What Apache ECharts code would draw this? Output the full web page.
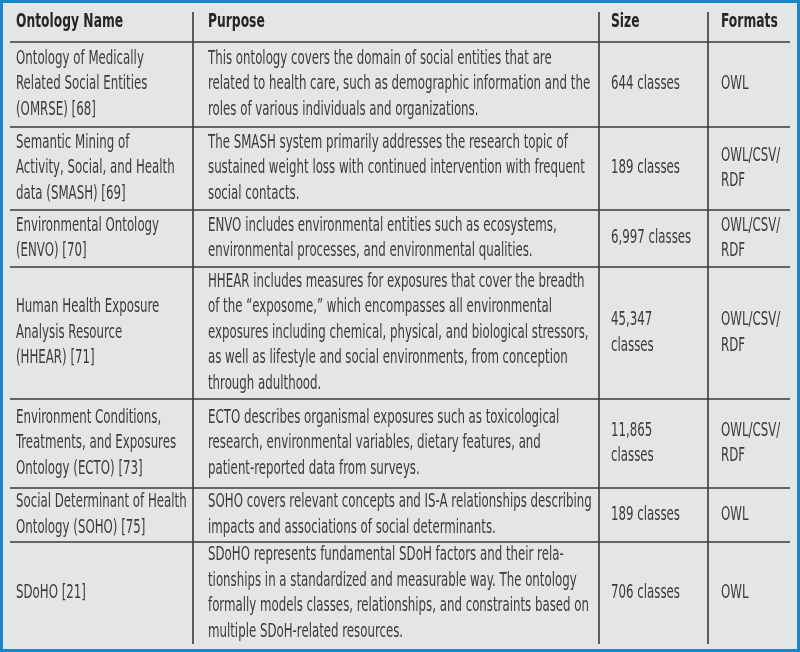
<!DOCTYPE html>
<html><head><meta charset="utf-8">
<script src="https://cdn.jsdelivr.net/npm/echarts@6/dist/echarts.min.js"></script>
<style>html,body{margin:0;padding:0;background:#fff}#c{width:800px;height:652px}</style>
</head><body><div id="c"></div>
<script>
const headers = ['Ontology Name', 'Purpose', 'Size', 'Formats'];
const names = [
  'Ontology of Medically\nRelated Social Entities\n(OMRSE) [68]',
  'Semantic Mining of\nActivity, Social, and Health\ndata (SMASH) [69]',
  'Environmental Ontology\n(ENVO) [70]',
  'Human Health Exposure\nAnalysis Resource\n(HHEAR) [71]',
  'Environment Conditions,\nTreatments, and Exposures\nOntology (ECTO) [73]',
  'Social Determinant of Health\nOntology (SOHO) [75]',
  'SDoHO [21]'
];
const purposes = [
  'This ontology covers the domain of social entities that are\nrelated to health care, such as demographic information and the\nroles of various individuals and organizations.',
  'The SMASH system primarily addresses the research topic of\nsustained weight loss with continued intervention with frequent\nsocial contacts.',
  'ENVO includes environmental entities such as ecosystems,\nenvironmental processes, and environmental qualities.',
  'HHEAR includes measures for exposures that cover the breadth\nof the \u201cexposome,\u201d which encompasses all environmental\nexposures including chemical, physical, and biological stressors,\nas well as lifestyle and social environments, from conception\nthrough adulthood.',
  'ECTO describes organismal exposures such as toxicological\nresearch, environmental variables, dietary features, and\npatient-reported data from surveys.',
  'SOHO covers relevant concepts and IS-A relationships describing\nimpacts and associations of social determinants.',
  'SDoHO represents fundamental SDoH factors and their rela-\ntionships in a standardized and measurable way. The ontology\nformally models classes, relationships, and constraints based on\nmultiple SDoH-related resources.'
];
const sizes = ['644 classes', '189 classes', '6,997 classes', '45,347\nclasses', '11,865\nclasses', '189 classes', '706 classes'];
const formats = ['OWL', 'OWL/CSV/\nRDF', 'OWL/CSV/\nRDF', 'OWL/CSV/\nRDF', 'OWL/CSV/\nRDF', 'OWL', 'OWL'];

// layout (pixel positions of table rules)
const colX = [10, 193, 599, 708, 790];
const textX = [16, 208, 611, 721];
const rowY = [42, 127, 210, 267, 399, 488, 542, 645];
const LH = 25.5;
const FONT = '"Liberation Sans Narrow", "DejaVu Sans Condensed", sans-serif';
const FS = 19, SX = 0.69;
const lineColor = '#3a3a3a';
const textColor = '#3b3b3b';

const chart = echarts.init(document.getElementById('c'), null, {renderer: 'canvas'});
const g = [];
g.push({type: 'rect', shape: {x: 0, y: 0, width: 800, height: 652}, style: {fill: '#e4e5e7'}, z: 0});
g.push({type: 'rect', shape: {x: 1.5, y: 1.5, width: 797, height: 649}, style: {fill: null, stroke: '#1c87c6', lineWidth: 3}, z: 5});

headers.forEach((h, i) => {
  g.push({type: 'text', x: textX[i], y: 22, scaleX: 0.72, style: {text: h, font: '600 ' + FS + 'px ' + FONT, fill: '#262626', verticalAlign: 'middle', align: 'left'}, z: 3});
});

const cols = [names, purposes, sizes, formats];
for (let r = 0; r < names.length; r++) {
  const cy = (rowY[r] + rowY[r + 1]) / 2;
  cols.forEach((c, i) => {
    g.push({type: 'text', x: textX[i], y: cy, scaleX: SX, style: {text: c[r], font: FS + 'px ' + FONT, fill: textColor, lineHeight: LH, verticalAlign: 'middle', align: 'left'}, z: 3});
  });
}
for (let r = 0; r < rowY.length - 1; r++) {
  g.push({type: 'line', shape: {x1: colX[0], y1: rowY[r], x2: colX[4], y2: rowY[r]}, style: {stroke: lineColor, lineWidth: 1.6}, z: 2});
}
const bottom = 644;
[1, 2, 3].forEach(i => {
  g.push({type: 'line', shape: {x1: colX[i], y1: 12, x2: colX[i], y2: bottom}, style: {stroke: lineColor, lineWidth: 1.6}, z: 2});
});

chart.setOption({animation: false, graphic: {elements: g}});
</script></body></html>
